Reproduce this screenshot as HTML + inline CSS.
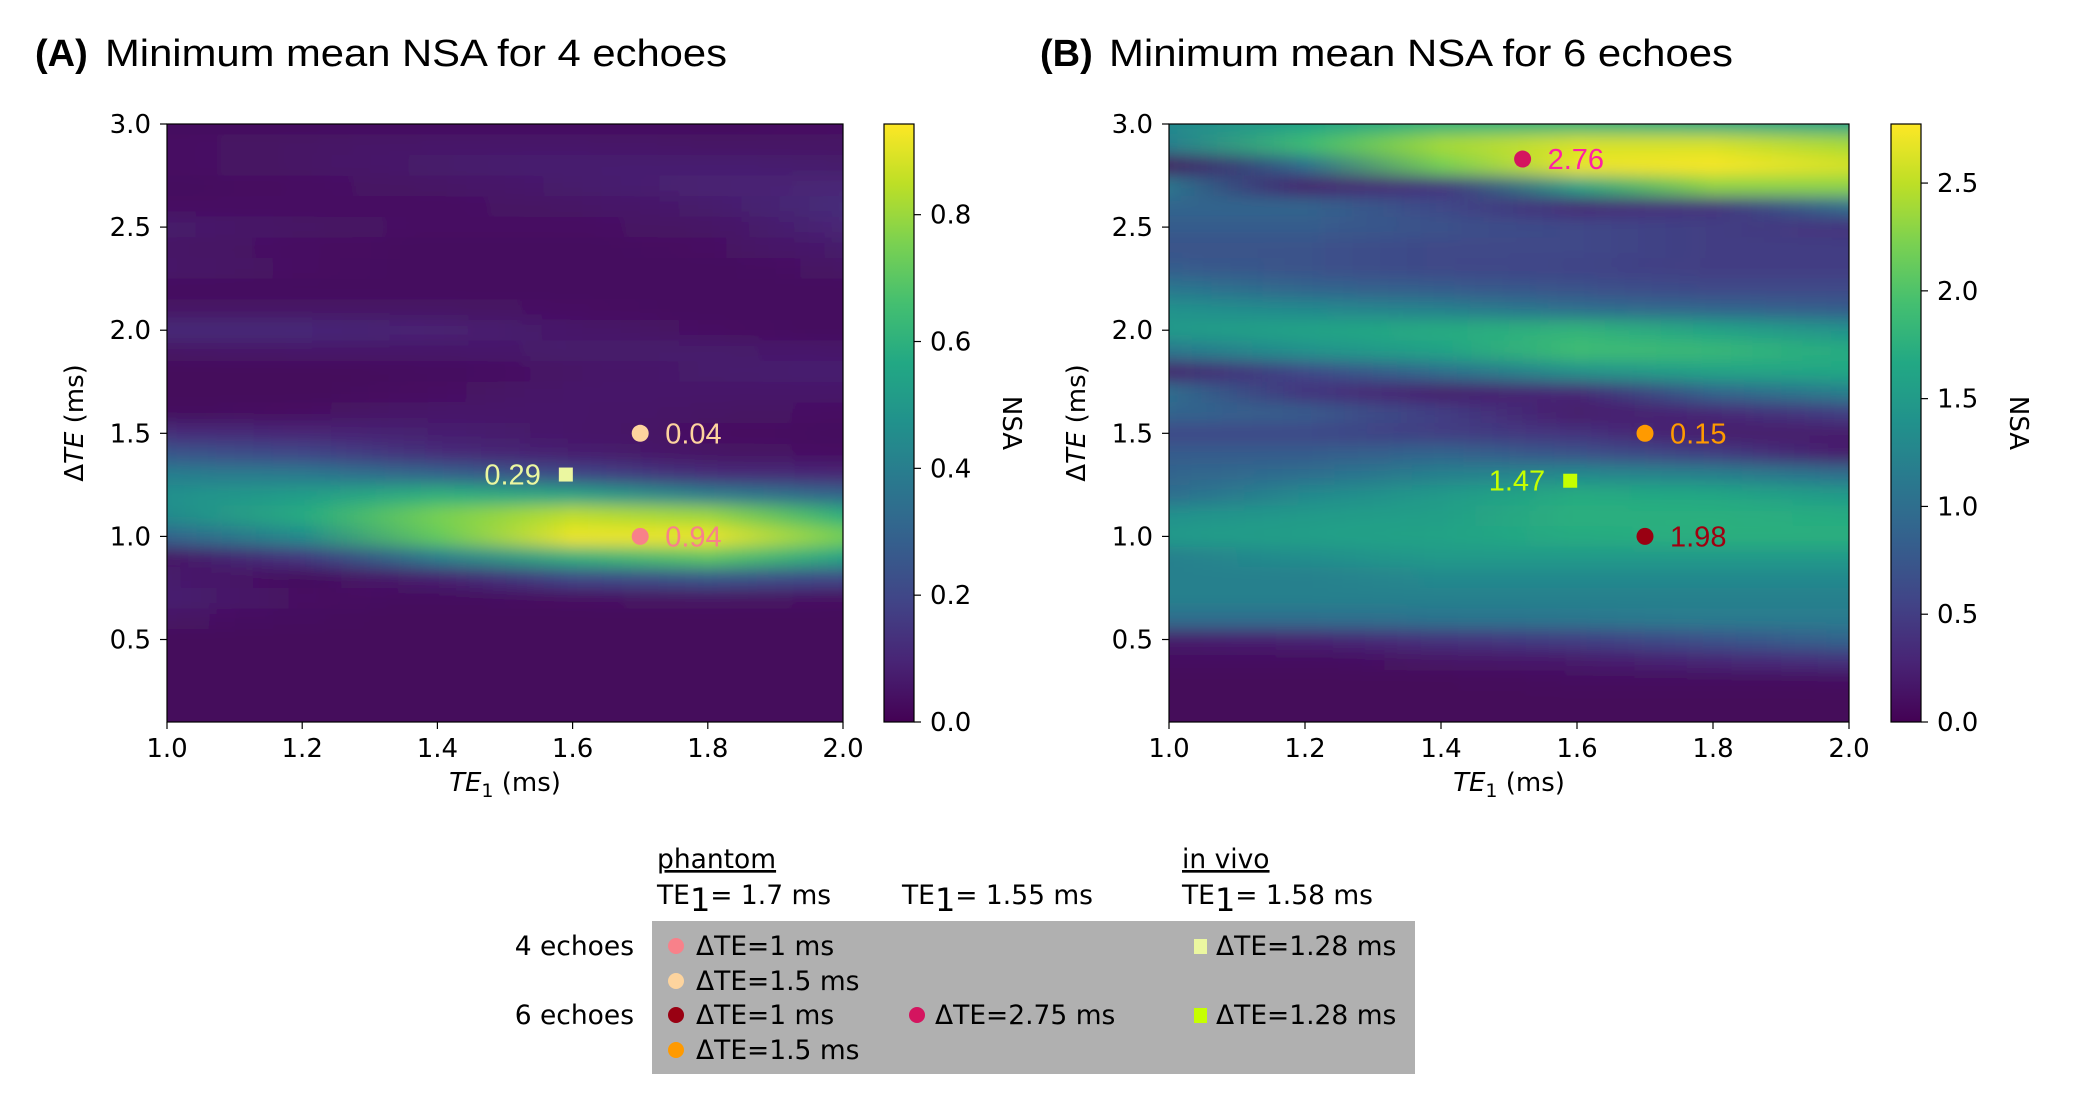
<!DOCTYPE html>
<html><head><meta charset="utf-8"><style>
html,body{margin:0;padding:0;background:#fff;}
svg{display:block;}
text{font-family:"Liberation Sans",sans-serif;fill:#000;}
.lg{font-family:"DejaVu Sans","Liberation Sans",sans-serif;font-size:26.5px;}
.dv{font-family:"DejaVu Sans","Liberation Sans",sans-serif;}
</style></head><body>
<svg id="fig" width="2075" height="1099" viewBox="0 0 2075 1099" xmlns="http://www.w3.org/2000/svg">
<defs>
<filter id="vblur" x="-5%" y="-5%" width="110%" height="110%"><feGaussianBlur stdDeviation="3 8"/></filter>
<clipPath id="clipA"><rect x="167" y="124" width="676" height="598"/></clipPath>
<clipPath id="clipB"><rect x="1169" y="124" width="680" height="598"/></clipPath>
</defs>
<text x="35" y="66" font-size="38" font-weight="bold">(A)</text>
<text x="105" y="66" font-size="38" textLength="622" lengthAdjust="spacingAndGlyphs">Minimum mean NSA for 4 echoes</text>
<text x="1040" y="66" font-size="38" font-weight="bold">(B)</text>
<text x="1109" y="66" font-size="38" textLength="624" lengthAdjust="spacingAndGlyphs">Minimum mean NSA for 6 echoes</text>
<g id="legend">
<rect x="652" y="921" width="763" height="153" fill="#b0b0b0"/>
<text class="lg" x="657" y="868" text-decoration="underline">phantom</text>
<text class="lg" x="1182" y="868" text-decoration="underline">in vivo</text>
<text class="lg" x="657" y="904">TE<tspan dy="7" font-size="32">1</tspan><tspan dy="-7">= 1.7 ms</tspan></text>
<text class="lg" x="902" y="904">TE<tspan dy="7" font-size="32">1</tspan><tspan dy="-7">= 1.55 ms</tspan></text>
<text class="lg" x="1182" y="904">TE<tspan dy="7" font-size="32">1</tspan><tspan dy="-7">= 1.58 ms</tspan></text>
<text class="lg" x="634" y="955" text-anchor="end">4 echoes</text>
<text class="lg" x="634" y="1024" text-anchor="end">6 echoes</text>
<circle cx="676" cy="946" r="8" fill="#f8818a"/>
<text class="lg" x="696" y="955">ΔTE=1 ms</text>
<circle cx="676" cy="981" r="8" fill="#fdd49e"/>
<text class="lg" x="696" y="990">ΔTE=1.5 ms</text>
<rect x="1194" y="939" width="13" height="15" fill="#ebf7a0"/>
<text class="lg" x="1216" y="955">ΔTE=1.28 ms</text>
<circle cx="676" cy="1015" r="8" fill="#990012"/>
<text class="lg" x="696" y="1024">ΔTE=1 ms</text>
<circle cx="917" cy="1015" r="8" fill="#d4145f"/>
<text class="lg" x="935" y="1024">ΔTE=2.75 ms</text>
<rect x="1194" y="1008" width="13" height="15" fill="#c6ff00"/>
<text class="lg" x="1216" y="1024">ΔTE=1.28 ms</text>
<circle cx="676" cy="1050" r="8" fill="#ff9a00"/>
<text class="lg" x="696" y="1059">ΔTE=1.5 ms</text>
</g>
</svg>
<script>
// ---- data ----
const te1Cols = [1.0, 1.2, 1.4, 1.6, 1.8, 2.0];
const dteRows = [3.0,2.9,2.8,2.7,2.6,2.5,2.4,2.3,2.2,2.1,2.0,1.9,1.8,1.7,1.6,1.5,1.4,1.3,1.2,1.1,1.0,0.9,0.8,0.7,0.6,0.5,0.4,0.3,0.2,0.1];
const xTicks = [1.0, 1.2, 1.4, 1.6, 1.8, 2.0];
const yTicks = [0.5, 1.0, 1.5, 2.0, 2.5, 3.0];
const cbTicksA = [0.0, 0.2, 0.4, 0.6, 0.8];
const cbTicksB = [0.0, 0.5, 1.0, 1.5, 2.0, 2.5];
const nsaA = [
 [.03,.04,.04,.03,.04,.07,.05,.06,.03,.05,.11,.05,.02,.02,.03,.12,.25,.40,.47,.45,.30,.05,.07,.08,.05,.02,.02,.02,.02,.02],
 [.03,.05,.05,.04,.04,.05,.04,.04,.03,.05,.11,.06,.02,.02,.04,.10,.20,.38,.52,.58,.45,.15,.03,.04,.03,.02,.02,.02,.02,.02],
 [.03,.06,.07,.05,.04,.04,.03,.03,.03,.05,.09,.06,.03,.04,.06,.08,.12,.30,.60,.75,.72,.40,.08,.03,.02,.02,.02,.02,.02,.02],
 [.03,.06,.08,.07,.05,.04,.03,.03,.03,.04,.06,.07,.05,.06,.06,.06,.08,.20,.55,.85,.92,.60,.20,.04,.02,.02,.02,.02,.02,.02],
 [.03,.05,.08,.09,.07,.05,.04,.03,.03,.03,.04,.07,.07,.06,.05,.04,.05,.12,.40,.80,.92,.70,.25,.05,.02,.02,.02,.02,.02,.02],
 [.04,.05,.07,.10,.12,.10,.07,.05,.03,.03,.03,.06,.08,.06,.04,.03,.04,.10,.30,.60,.75,.55,.20,.04,.02,.02,.02,.02,.02,.02]
];
const nsaB = [
 [1.3,1.2,0.1,1.1,0.9,0.8,0.7,0.8,1.1,1.4,1.5,1.1,0.2,1.0,0.9,0.6,0.8,0.9,1.0,1.4,1.5,1.2,1.2,1.2,1.0,0.2,0.1,0.05,0.05,0.05],
 [1.6,1.9,1.0,0.2,0.9,0.8,0.7,0.7,0.9,1.3,1.6,1.4,0.6,0.4,0.8,0.6,0.8,1.0,1.3,1.5,1.55,1.35,1.2,1.2,1.0,0.25,0.1,0.05,0.05,0.05],
 [1.8,2.4,2.2,0.4,0.6,0.7,0.6,0.6,0.8,1.2,1.7,1.6,1.0,0.2,0.5,0.5,0.9,1.2,1.5,1.55,1.6,1.5,1.3,1.2,1.05,0.4,0.15,0.05,0.05,0.05],
 [1.8,2.6,2.7,1.6,0.3,0.6,0.6,0.55,0.7,1.0,1.8,1.9,1.4,0.3,0.2,0.4,0.7,1.3,1.7,1.75,1.7,1.5,1.3,1.2,1.1,0.5,0.2,0.08,0.05,0.05],
 [1.7,2.6,2.75,2.3,0.4,0.5,0.5,0.5,0.6,0.9,1.6,1.85,1.6,0.9,0.3,0.2,0.5,1.2,1.65,1.75,1.75,1.5,1.3,1.2,1.15,0.7,0.3,0.08,0.05,0.05],
 [1.6,2.4,2.6,2.3,1.0,0.4,0.5,0.5,0.6,0.8,1.4,1.7,1.65,1.2,0.5,0.2,0.2,1.0,1.5,1.7,1.75,1.5,1.3,1.2,1.15,0.9,0.4,0.1,0.05,0.05]
];
const markerTE1A = [1.7, 1.7, 1.59];
const markerDTEA = [1.5, 1.0, 1.30];
const markerValA = ["0.04", "0.94", "0.29"];
const markerTE1B = [1.52, 1.7, 1.7, 1.59];
const markerDTEB = [2.83, 1.5, 1.0, 1.27];
const markerValB = ["2.76", "0.15", "1.98", "1.47"];

// ---- helpers ----
const NS = "http://www.w3.org/2000/svg";
const svg = document.getElementById('fig');
const VIR = ["#440154","#482475","#414487","#355f8d","#2a788e","#21918c","#22a884","#44bf70","#7ad151","#bddf26","#fde725"];
function hex(h){return [parseInt(h.slice(1,3),16),parseInt(h.slice(3,5),16),parseInt(h.slice(5,7),16)];}
function viridis(t){t=Math.max(0,Math.min(1,t));const p=t*10,i=Math.min(9,Math.floor(p)),f=p-i;const a=hex(VIR[i]),b=hex(VIR[i+1]);return 'rgb('+a.map((v,k)=>Math.round(v+(b[k]-v)*f)).join(',')+')';}
function mk(tag, attrs, parent){const e=document.createElementNS(NS,tag);for(const k in attrs)e.setAttribute(k,attrs[k]);(parent||svg).appendChild(e);return e;}
let gid=0;

function panel(cfg){
  const g = mk('g',{});
  
  
  const X = v => cfg.x0 + (v-1.0)/(2.0-1.0)*(cfg.x1-cfg.x0);
  const Y = v => cfg.y1 - (v-0.1)/(3.0-0.1)*(cfg.y1-cfg.y0);
  const defs = svg.querySelector('defs');
  const heat = mk('g',{'clip-path':'url(#'+cfg.clip+')'}, g);
  
  
  const layers=[mk('g',{},heat), mk('g',{filter:'url(#vblur)'},heat)];
  dteRows.forEach((d,ri)=>{
    const lg = mk('linearGradient',{id:'gr'+(gid++),x1:X(1.0),x2:X(2.0),y1:0,y2:0,gradientUnits:'userSpaceOnUse'},defs);
    te1Cols.forEach((t,ci)=>{
      mk('stop',{offset:((t-1.0)/1.0),'stop-color':viridis(cfg.data[ci][ri]/cfg.vmax)},lg);
    });
    const ya = Y(d+0.05), yb = Y(d-0.05);
    const ext = (ri===0?-20:0), extb=(ri===dteRows.length-1?20:0);
    layers.forEach(L=>{
      const r = mk('rect',{x:cfg.x0-20,y:ya+ext,width:cfg.x1-cfg.x0+40,height:yb-ya+extb-ext+0.5,fill:'url(#'+lg.id+')'},L);
      
      
    });
  });
  const fr = mk('rect',{x:cfg.x0,y:cfg.y0,width:cfg.x1-cfg.x0,height:cfg.y1-cfg.y0,fill:'none',stroke:'#000','stroke-width':1.2},g);
  
  
  xTicks.forEach(t=>{
    const l=mk('line',{x1:X(t),x2:X(t),y1:cfg.y1,y2:cfg.y1+7,stroke:'#000','stroke-width':1.2},g);
    
    
    const tx=mk('text',{x:X(t),y:cfg.y1+35,'font-size':26,'text-anchor':'middle','class':'dv'},g);
    tx.textContent=t.toFixed(1);
    
    
  });
  yTicks.forEach(t=>{
    const l=mk('line',{x1:cfg.x0-7,x2:cfg.x0,y1:Y(t),y2:Y(t),stroke:'#000','stroke-width':1.2},g);
    
    
    const tx=mk('text',{x:cfg.x0-16,y:Y(t)+9,'font-size':26,'text-anchor':'end','class':'dv'},g);
    tx.textContent=t.toFixed(1);
    
    
  });
  const xl=mk('text',{x:(cfg.x0+cfg.x1)/2,y:cfg.y1+69,'font-size':26,'text-anchor':'middle','class':'dv'},g);
  xl.innerHTML='<tspan font-style="italic">TE</tspan><tspan font-size="19" dy="6">1</tspan><tspan dy="-6"> (ms)</tspan>';
  
  
  const cy=(cfg.y0+cfg.y1)/2;
  const yl=mk('text',{x:cfg.ylx,y:cy,'font-size':26,'text-anchor':'middle','class':'dv',transform:'rotate(-90 '+cfg.ylx+' '+cy+')'},g);
  yl.innerHTML='Δ<tspan font-style="italic">TE</tspan> (ms)';
  
  
  // colorbar
  const cbg = mk('linearGradient',{id:'cb'+cfg.clip,x1:0,x2:0,y1:1,y2:0},defs);
  for(let i=0;i<=20;i++) mk('stop',{offset:i/20,'stop-color':viridis(i/20)},cbg);
  const cb=mk('rect',{x:cfg.cbx,y:cfg.y0,width:cfg.cbw,height:cfg.y1-cfg.y0,fill:'url(#cb'+cfg.clip+')',stroke:'#000','stroke-width':1.2},g);
  
  
  const CY = v => cfg.y1 - v/cfg.vmax*(cfg.y1-cfg.y0);
  cfg.cbTicks.forEach(t=>{
    const l=mk('line',{x1:cfg.cbx+cfg.cbw,x2:cfg.cbx+cfg.cbw+7,y1:CY(t),y2:CY(t),stroke:'#000','stroke-width':1.2},g);
    
    
    const tx=mk('text',{x:cfg.cbx+cfg.cbw+16,y:CY(t)+9,'font-size':26,'class':'dv'},g);
    tx.textContent=t.toFixed(1);
    
    
  });
  const nl=mk('text',{x:cfg.nsax,y:cy,'font-size':26,'text-anchor':'middle','class':'dv',transform:'rotate(90 '+cfg.nsax+' '+cy+')'},g);
  nl.textContent='NSA';
  
  
  // markers
  cfg.mt.forEach((t,i)=>{
    const px=X(t), py=Y(cfg.md[i]), m=cfg.mstyle[i];
    let e;
    if(m.sq) e=mk('rect',{x:px-7,y:py-7,width:14,height:14,fill:m.c},g);
    else e=mk('circle',{cx:px,cy:py,r:8.5,fill:m.c},g);
    
    
    const tx=mk('text',{x:m.left?px-25:px+25,y:py+10,'font-size':29,'text-anchor':m.left?'end':'start',fill:m.tc},g);
    tx.style.fill=m.tc;
    tx.textContent=cfg.mv[i];
    
    
  });
}
panel({name:'panel-a-heatmap',clip:'clipA',x0:167,x1:843,y0:124,y1:722,vmax:0.943,data:nsaA,cbx:884,cbw:30,cbTicks:cbTicksA,ylx:83,nsax:1003,
  mt:markerTE1A,md:markerDTEA,mv:markerValA,
  mstyle:[{c:'#fdd49e',tc:'#fdd49e'},{c:'#f8818a',tc:'#f8818a'},{c:'#ebf7a0',tc:'#ebf7a0',sq:1,left:1}]});
panel({name:'panel-b-heatmap',clip:'clipB',x0:1169,x1:1849,y0:124,y1:722,vmax:2.774,data:nsaB,cbx:1891,cbw:30,cbTicks:cbTicksB,ylx:1085,nsax:2010,
  mt:markerTE1B,md:markerDTEB,mv:markerValB,
  mstyle:[{c:'#d4145f',tc:'#ff1fa5'},{c:'#ff9a00',tc:'#ff9a00'},{c:'#990012',tc:'#a00010'},{c:'#c6ff00',tc:'#c6ff00',sq:1,left:1}]});
</script>
</body></html>
